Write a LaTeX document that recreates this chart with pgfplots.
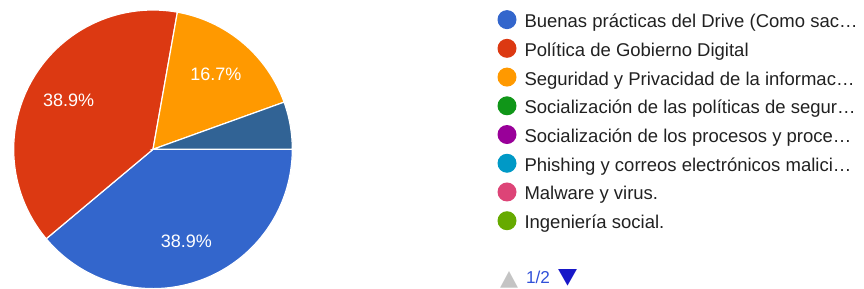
\documentclass[border=0pt]{standalone}
\usepackage{pgfplots}
\pgfplotsset{compat=1.18}
\usepackage{pgfplotstable}
\usepackage{fontspec}
\setmainfont{Liberation Sans}
\newfontfamily\symfont{DejaVu Sans}
\definecolor{gblue}{HTML}{3366CC}
\definecolor{gred}{HTML}{DC3912}
\definecolor{gorange}{HTML}{FF9900}
\definecolor{gslate}{HTML}{316395}
\definecolor{ggreen}{HTML}{109618}
\definecolor{gpurple}{HTML}{990099}
\definecolor{gcyan}{HTML}{0099C6}
\definecolor{gpink}{HTML}{DD4477}
\definecolor{glime}{HTML}{66AA00}
\definecolor{gtext}{HTML}{212121}
\definecolor{navgrey}{HTML}{C4C4C4}
\definecolor{navblue}{HTML}{3050D8}
\definecolor{navdark}{HTML}{1818C8}

\pgfplotstableread{
slice pct
A 38.9
B 38.9
C 16.7
D 5.6
}\pietable

\pgfplotstablegetelem{0}{pct}\of\pietable \let\pA\pgfplotsretval
\pgfplotstablegetelem{1}{pct}\of\pietable \let\pB\pgfplotsretval
\pgfplotstablegetelem{2}{pct}\of\pietable \let\pC\pgfplotsretval
\pgfplotstablegetelem{3}{pct}\of\pietable \let\pD\pgfplotsretval

\pgfmathsetmacro\aA{0}
\pgfmathsetmacro\aB{\aA-3.6*\pA}
\pgfmathsetmacro\aC{\aB-3.6*\pB}
\pgfmathsetmacro\aD{\aC-3.6*\pC}
\pgfmathsetmacro\aE{-360}
\pgfmathsetmacro\mA{(\aA+\aB)/2}
\pgfmathsetmacro\mB{(\aB+\aC)/2}
\pgfmathsetmacro\mC{(\aC+\aD)/2}

\newcommand\cx{153}
\newcommand\cy{138.7}
\newcommand\rr{139.3}
\newcommand\lr{97.5}

\newcommand\sector[3]{%
  \addplot[fill=#1, draw=white, line width=0.6pt, domain=#2:#3, samples=90,
    variable=\t, forget plot]
    ({\cx+\rr*cos(\t)},{\cy+\rr*sin(\t)}) -- (axis cs:\cx,\cy) -- cycle;}

\begin{document}
\begin{tikzpicture}
\begin{axis}[
  scale only axis, width=432pt, height=144pt,
  xmin=0, xmax=864, ymin=0, ymax=288,
  hide axis, clip=true,
  legend cell align=left,
  legend image code/.code={\path[draw=none, fill=none] (0pt,0pt) rectangle (9.5pt,7.95pt);
    \fill[#1, draw=none, overlay] (4.75pt,0.65pt) circle (4.75pt);},
  legend style={at={(axis cs:497.5,283)}, anchor=north west, draw=none, fill=none,
    inner sep=0pt, outer sep=0pt, row sep=-0.25pt, column sep=4pt,
    font=\fontsize{9.25}{10}\selectfont, text=gtext,
    nodes={inner sep=0pt, outer sep=0pt, text height=10pt, text depth=3.33pt}},
]
\sector{gblue}{\aB}{\aA}
\sector{gred}{\aC}{\aB}
\sector{gorange}{\aD}{\aC}
\sector{gslate}{\aE}{\aD}

\node[text=white, font=\fontsize{9}{10}\selectfont] at (axis cs:{\cx+\lr*cos(\mA)},{\cy+\lr*sin(\mA)}) {\pA\%};
\node[text=white, font=\fontsize{9}{10}\selectfont] at (axis cs:{\cx+\lr*cos(\mB)},{\cy+\lr*sin(\mB)}) {\pB\%};
\node[text=white, font=\fontsize{9}{10}\selectfont] at (axis cs:{\cx+\lr*cos(\mC)},{\cy+\lr*sin(\mC)}) {\pC\%};

\addlegendimage{color=gblue}
\addlegendentry{Buenas prácticas del Drive (Como sac…}
\addlegendimage{color=gred}
\addlegendentry{Política de Gobierno Digital}
\addlegendimage{color=gorange}
\addlegendentry{Seguridad y Privacidad de la informac…}
\addlegendimage{color=ggreen}
\addlegendentry{Socialización de las políticas de segur…}
\addlegendimage{color=gpurple}
\addlegendentry{Socialización de los procesos y proce…}
\addlegendimage{color=gcyan}
\addlegendentry{Phishing y correos electrónicos malici…}
\addlegendimage{color=gpink}
\addlegendentry{Malware y virus.}
\addlegendimage{color=glime}
\addlegendentry{Ingeniería social.}

\node[text=navgrey, inner sep=0pt] at (axis cs:509,8) {\resizebox{9pt}{7pt}{\symfont ▲}};
\node[text=navblue, inner sep=0pt, font=\fontsize{8.6}{10}\selectfont] at (axis cs:538,11) {1/2};
\node[text=navdark, inner sep=0pt] at (axis cs:567.5,10) {\resizebox{9.5pt}{7pt}{\symfont ▼}};
\end{axis}
\pgfresetboundingbox
\path (current axis.south west) rectangle (current axis.north east);
\end{tikzpicture}
\end{document}
